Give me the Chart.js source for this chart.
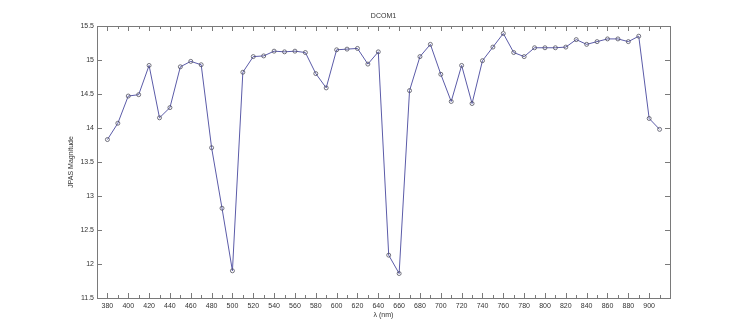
<!DOCTYPE html>
<html>
<head>
<meta charset="utf-8">
<script src="https://cdn.jsdelivr.net/npm/chart.js@4/dist/chart.umd.min.js"></script>
<style>
    html, body { margin: 0; padding: 0; background: #fff; }
    #wrap { width: 741px; height: 335px; }
</style>
</head>
<body>
<div id="wrap"><canvas id="myChart" width="741" height="335"></canvas></div>
<script>
// wavelength of each filter (nm)
const wavelengths = [
    380, 390, 400, 410, 420, 430, 440, 450, 460, 470,
    480, 490, 500, 510, 520, 530, 540, 550, 560, 570,
    580, 590, 600, 610, 620, 630, 640, 650, 660, 670,
    680, 690, 700, 710, 720, 730, 740, 750, 760, 770,
    780, 790, 800, 810, 820, 830, 840, 850, 860, 870,
    880, 890, 900, 910,
];

// JPAS magnitudes
const magnitudes = [
    13.83, 14.07, 14.47, 14.49, 14.92, 14.15, 14.30, 14.90, 14.98, 14.93,
    13.71, 12.82, 11.90, 14.82, 15.05, 15.06, 15.13, 15.12, 15.13, 15.11,
    14.80, 14.59, 15.15, 15.16, 15.17, 14.94, 15.12, 12.13, 11.86, 14.55,
    15.05, 15.23, 14.79, 14.39, 14.92, 14.36, 14.99, 15.19, 15.39, 15.11,
    15.05, 15.18, 15.18, 15.18, 15.19, 15.30, 15.23, 15.27, 15.31, 15.31,
    15.27, 15.35, 14.14, 13.98,
];

const xMin = 370;
const xMax = 920;
const yMin = 11.5;
const yMax = 15.5;
const plotTitle = 'DCOM1';
const xTitle = 'λ (nm)';
const yTitle = 'JPAS Magnitude';

const FONT = { family: '"Liberation Sans", Arial, sans-serif', size: 7 };
const TEXT = '#333333';
const AXIS = '#7a7a7a';

// MATLAB-like box with inner ticks on all sides, plus title
const frame = {
    id: 'frame',
    afterDraw(chart) {
        const { ctx, chartArea: a, scales: { x, y } } = chart;
        ctx.save();
        ctx.strokeStyle = AXIS;
        ctx.lineWidth = 1;
        ctx.strokeRect(Math.round(a.left) + 0.5, Math.round(a.top) + 0.5,
            Math.round(a.right - a.left), Math.round(a.bottom - a.top));

        ctx.beginPath();
        x.ticks.forEach(t => {
            const px = Math.round(x.getPixelForValue(t.value)) + 0.5;
            const len = (t.value - 380) % 20 === 0 ? 5 : 3;
            ctx.moveTo(px, a.bottom);
            ctx.lineTo(px, a.bottom - len);
            ctx.moveTo(px, a.top);
            ctx.lineTo(px, a.top + len);
        });
        y.ticks.forEach(t => {
            const py = Math.round(y.getPixelForValue(t.value)) + 0.5;
            ctx.moveTo(a.left, py);
            ctx.lineTo(a.left + 5, py);
            ctx.moveTo(a.right, py);
            ctx.lineTo(a.right - 5, py);
        });
        ctx.stroke();

        ctx.fillStyle = TEXT;
        ctx.font = `${FONT.size}px ${FONT.family}`;
        ctx.textAlign = 'center';
        ctx.textBaseline = 'middle';
        ctx.fillText(plotTitle, (a.left + a.right) / 2, 16.5);
        ctx.restore();
    }
};

const ctx = document.getElementById('myChart').getContext('2d');

new Chart(ctx, {
    type: 'line',
    data: {
        datasets: [{
            label: plotTitle,
            data: wavelengths.map((w, i) => ({ x: w, y: magnitudes[i] })),
            borderColor: '#5b5ba8',
            borderWidth: 1,
            tension: 0,
            pointRadius: 2,
            pointBorderWidth: 0.8,
            pointBorderColor: '#505060',
            pointBackgroundColor: 'rgba(0,0,0,0)',
        }]
    },
    options: {
        responsive: false,
        animation: false,
        devicePixelRatio: 1,
        layout: { padding: { top: 26, right: 71, bottom: 0, left: 0 } },
        plugins: {
            legend: { display: false },
            tooltip: { enabled: false },
        },
        scales: {
            x: {
                type: 'linear',
                min: xMin,
                max: xMax,
                grid: { display: false, drawTicks: false },
                border: { display: false },
                ticks: {
                    stepSize: 10,
                    autoSkip: false,
                    maxRotation: 0,
                    padding: 4,
                    color: TEXT,
                    font: FONT,
                    callback: v => ((v - 380) % 20 === 0 && v <= 900) ? String(v) : '',
                },
                title: {
                    display: true,
                    text: xTitle,
                    color: TEXT,
                    font: FONT,
                    padding: { top: 0, bottom: 15.5 },
                },
                afterFit: scale => { scale.height = 37; },
            },
            y: {
                min: yMin,
                max: yMax,
                grid: { display: false, drawTicks: false },
                border: { display: false },
                ticks: {
                    stepSize: 0.5,
                    padding: 3,
                    color: TEXT,
                    font: FONT,
                    callback: v => String(v),
                },
                title: {
                    display: true,
                    text: yTitle,
                    color: TEXT,
                    font: FONT,
                    padding: { top: 66.8, bottom: 0 },
                },
                afterFit: scale => { scale.width = 97; },
            },
        },
    },
    plugins: [frame],
});
</script>
</body>
</html>
